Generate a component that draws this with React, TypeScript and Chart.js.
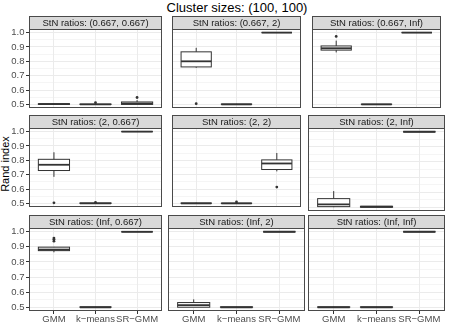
import React, { useEffect, useRef } from 'react';
import { Chart, registerables } from 'chart.js';

Chart.register(...registerables);

const FONT = '"Liberation Sans", Arial, Helvetica, sans-serif';

// ---------- data ----------
const chartTitle = 'Cluster sizes: (100, 100)';
const yAxisTitle = 'Rand index';
const categories = ['GMM', 'k\u2212means', 'SR\u2212GMM'];
const yMajorTicks = [0.5, 0.6, 0.7, 0.8, 0.9, 1.0];
const yMinorTicks = [0.55, 0.65, 0.75, 0.85, 0.95];
const yLimits = [0.475, 1.025];
const xLimits = [0.4, 3.6];

const stripLabels = [
  'StN ratios: (0.667, 0.667)',
  'StN ratios: (0.667, 2)',
  'StN ratios: (0.667, Inf)',
  'StN ratios: (2, 0.667)',
  'StN ratios: (2, 2)',
  'StN ratios: (2, Inf)',
  'StN ratios: (Inf, 0.667)',
  'StN ratios: (Inf, 2)',
  'StN ratios: (Inf, Inf)',
];

// per method (GMM, k-means, SR-GMM): [lower whisker, Q1, median, Q3, upper whisker]
const box_0667_0667 = [[0.5, 0.5, 0.502, 0.505, 0.507], [0.5, 0.5, 0.5, 0.502, 0.503], [0.5, 0.5, 0.506, 0.517, 0.53]];
const out_0667_0667 = [[], [0.512], [0.548]];
const box_0667_2 = [[0.755, 0.761, 0.8, 0.866, 0.894], [0.5, 0.5, 0.5, 0.503, 0.504], [1, 1, 1, 1, 1]];
const out_0667_2 = [[0.505], [], []];
const box_0667_Inf = [[0.862, 0.878, 0.891, 0.907, 0.944], [0.5, 0.5, 0.5, 0.502, 0.503], [1, 1, 1, 1, 1]];
const out_0667_Inf = [[0.973], [], []];
const box_2_0667 = [[0.685, 0.729, 0.769, 0.807, 0.856], [0.5, 0.5, 0.5, 0.503, 0.504], [1, 1, 1, 1, 1]];
const out_2_0667 = [[0.504], [0.507], []];
const box_2_2 = [[0.5, 0.5, 0.5, 0.503, 0.505], [0.5, 0.5, 0.5, 0.502, 0.503], [0.723, 0.736, 0.778, 0.803, 0.851]];
const out_2_2 = [[], [0.51], [0.614]];
const box_2_Inf = [[0.5, 0.504, 0.519, 0.557, 0.607], [0.5, 0.5, 0.503, 0.506, 0.508], [1, 1, 1, 1, 1]];
const out_2_Inf = [[], [], []];
const box_Inf_0667 = [[0.864, 0.875, 0.882, 0.898, 0.9], [0.5, 0.5, 0.5, 0.502, 0.503], [1, 1, 1, 1, 1]];
const out_Inf_0667 = [[0.938, 0.95, 0.958], [], []];
const box_Inf_2 = [[0.5, 0.5, 0.514, 0.531, 0.552], [0.5, 0.5, 0.5, 0.502, 0.503], [1, 1, 1, 1, 1]];
const out_Inf_2 = [[], [], []];
const box_Inf_Inf = [[0.5, 0.5, 0.5, 0.502, 0.503], [0.5, 0.5, 0.5, 0.502, 0.503], [1, 1, 1, 1, 1]];
const out_Inf_Inf = [[], [], []];

const panelBoxes = [box_0667_0667, box_0667_2, box_0667_Inf, box_2_0667, box_2_2, box_2_Inf, box_Inf_0667, box_Inf_2, box_Inf_Inf];
const panelOutliers = [out_0667_0667, out_0667_2, out_0667_Inf, out_2_0667, out_2_2, out_2_Inf, out_Inf_0667, out_Inf_2, out_Inf_Inf];

// ---------- layout ----------
const PLOT_LEFT = [29, 168, 308];
const PLOT_W = 137;
const STRIP_TOP = [16, 115, 215];
const STRIP_H = 13;
const PLOT_H = 83;
const Y_AXIS_W = 29;
const X_AXIS_H = 25;

const INK = '#333333';
const FRAME = '#4A4A4A';
const GRID = '#EBEBEB';
const TICK_TXT = '#4D4D4D';

const isMinor = (v: number) => yMinorTicks.some((m) => Math.abs(m - v) < 1e-6);

function Panel({ idx }: { idx: number }) {
  const ref = useRef<HTMLCanvasElement | null>(null);
  const row = Math.floor(idx / 3);
  const col = idx % 3;
  const isLeft = col === 0;
  const isBottom = row === 2;
  const w = (isLeft ? Y_AXIS_W : 0) + PLOT_W;
  const h = STRIP_H + PLOT_H + (isBottom ? X_AXIS_H : 0);
  const left = isLeft ? 0 : PLOT_LEFT[col];
  const top = STRIP_TOP[row];

  useEffect(() => {
    const stats = panelBoxes[idx];
    const outs = panelOutliers[idx];
    const label = stripLabels[idx];

    const boxPlugin = {
      id: 'boxes' + idx,
      afterDatasetsDraw(chart: any) {
        const { ctx } = chart;
        const y = chart.scales.y;
        const meta = chart.getDatasetMeta(0);
        ctx.save();
        ctx.strokeStyle = INK;
        meta.data.forEach((el: any, i: number) => {
          const [lo, q1, md, q3, hi] = stats[i];
          const x = el.x;
          const half = el.width / 2;
          const pLo = y.getPixelForValue(lo);
          const pQ1 = y.getPixelForValue(q1);
          const pMd = y.getPixelForValue(md);
          const pQ3 = y.getPixelForValue(q3);
          const pHi = y.getPixelForValue(hi);
          ctx.lineWidth = 1;
          ctx.beginPath();
          ctx.moveTo(x, pHi);
          ctx.lineTo(x, pQ3);
          ctx.moveTo(x, pQ1);
          ctx.lineTo(x, pLo);
          ctx.stroke();
          ctx.strokeRect(x - half, pQ3, 2 * half, pQ1 - pQ3);
          ctx.lineWidth = 1.8;
          ctx.beginPath();
          ctx.moveTo(x - half, pMd);
          ctx.lineTo(x + half, pMd);
          ctx.stroke();
        });
        ctx.restore();
      },
      afterDraw(chart: any) {
        const { ctx, chartArea } = chart;
        const { left: l, right: r, top: t, bottom: b } = chartArea;
        ctx.save();
        // strip
        ctx.fillStyle = '#D9D9D9';
        ctx.fillRect(l, 0, r - l, t);
        ctx.strokeStyle = FRAME;
        ctx.lineWidth = 1;
        ctx.strokeRect(l + 0.5, 0.5, r - l - 1, t);
        ctx.fillStyle = '#1A1A1A';
        ctx.font = '9.5px ' + FONT;
        ctx.textAlign = 'center';
        ctx.textBaseline = 'middle';
        ctx.fillText(label, (l + r) / 2, t / 2 + 0.5);
        // panel border
        ctx.strokeRect(l + 0.5, t + 0.5, r - l - 1, b - t - 1);
        ctx.restore();
      },
    };

    const chart = new Chart(ref.current as HTMLCanvasElement, {
      type: 'bar',
      data: {
        datasets: [
          {
            type: 'bar',
            data: stats.map((s, i) => ({ x: i + 1, y: [s[1], s[3]] })) as any,
            backgroundColor: '#FFFFFF',
            borderWidth: 0,
            barPercentage: 0.75,
            categoryPercentage: 1,
          },
          {
            type: 'scatter',
            data: outs.flatMap((o, i) => o.map((v) => ({ x: i + 1, y: v }))) as any,
            pointRadius: 1.4,
            pointBackgroundColor: INK,
            pointBorderWidth: 0,
          },
        ] as any,
      },
      options: {
        animation: false,
        responsive: false,
        events: [],
        layout: { padding: { top: STRIP_H, left: 0, right: 0, bottom: 0 } },
        plugins: { legend: { display: false }, tooltip: { enabled: false }, title: { display: false } },
        scales: {
          x: {
            type: 'linear',
            min: xLimits[0],
            max: xLimits[1],
            offset: false,
            afterBuildTicks: (s: any) => {
              s.ticks = categories.map((_, i) => ({ value: i + 1 }));
            },
            afterFit: (s: any) => {
              s.height = isBottom ? X_AXIS_H : 0;
              s.paddingLeft = 0;
              s.paddingRight = 0;
            },
            grid: { offset: false, color: GRID, lineWidth: 1, drawTicks: isBottom, tickLength: 3, tickColor: INK },
            border: { display: false },
            ticks: {
              display: isBottom,
              autoSkip: false,
              maxRotation: 0,
              padding: 1,
              color: TICK_TXT,
              font: { size: 9.5, family: FONT, lineHeight: 1 },
              callback: (v: any) => categories[Math.round(Number(v)) - 1] ?? '',
            },
          },
          y: {
            type: 'linear',
            min: yLimits[0],
            max: yLimits[1],
            afterBuildTicks: (s: any) => {
              s.ticks = [...yMajorTicks, ...yMinorTicks].sort((a, b) => a - b).map((v) => ({ value: v }));
            },
            afterFit: (s: any) => {
              s.width = isLeft ? Y_AXIS_W : 0;
              s.paddingTop = 0;
              s.paddingBottom = 0;
            },
            grid: {
              color: GRID,
              lineWidth: (c: any) => (c.tick && isMinor(c.tick.value) ? 0.5 : 1),
              drawTicks: isLeft,
              tickLength: 3,
              tickColor: (c: any) => (c.tick && isMinor(c.tick.value) ? 'rgba(0,0,0,0)' : INK),
            },
            border: { display: false },
            ticks: {
              display: isLeft,
              autoSkip: false,
              padding: 1.5,
              color: TICK_TXT,
              font: { size: 9.5, family: FONT },
              callback: (v: any) => (isMinor(Number(v)) ? '' : Number(v).toFixed(1)),
            },
          },
        },
      } as any,
      plugins: [boxPlugin],
    });
    return () => chart.destroy();
  }, [idx]);

  return (
    <canvas
      ref={ref}
      width={w}
      height={h}
      style={{ position: 'absolute', left, top, width: w, height: h }}
    />
  );
}

export default function App() {
  useEffect(() => {
    document.body.style.margin = '0';
  }, []);
  const plotRight = PLOT_LEFT[2] + PLOT_W;
  const gridMid = (STRIP_TOP[0] + STRIP_TOP[2] + STRIP_H + PLOT_H) / 2;
  return (
    <div style={{ position: 'absolute', left: 0, top: 0, width: 449, height: 336, background: '#FFFFFF', overflow: 'hidden' }}>
      <div
        style={{
          position: 'absolute',
          left: PLOT_LEFT[0],
          width: plotRight - PLOT_LEFT[0],
          top: 0,
          height: 16,
          lineHeight: '16px',
          textAlign: 'center',
          fontFamily: FONT,
          fontSize: 13,
          color: '#000000',
          whiteSpace: 'nowrap',
        }}
      >
        {chartTitle}
      </div>
      <div
        style={{
          position: 'absolute',
          left: 5 - 50,
          top: gridMid - 7,
          width: 100,
          height: 14,
          lineHeight: '14px',
          textAlign: 'center',
          fontFamily: FONT,
          fontSize: 11,
          color: '#000000',
          transform: 'rotate(-90deg)',
          whiteSpace: 'nowrap',
        }}
      >
        {yAxisTitle}
      </div>
      {stripLabels.map((_, i) => (
        <Panel key={i} idx={i} />
      ))}
    </div>
  );
}
